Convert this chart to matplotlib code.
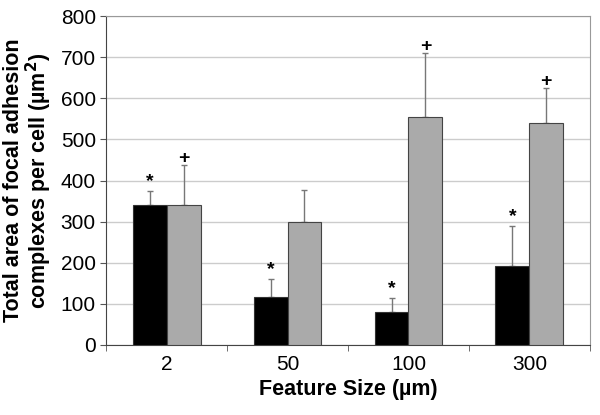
import matplotlib.pyplot as plt
import numpy as np

plt.rcParams["font.family"] = ["Liberation Sans", "DejaVu Sans"]

sizes = ["2", "50", "100", "300"]
black_vals = [340, 116, 81, 193]
black_err = [35, 44, 33, 97]
gray_vals = [340, 300, 555, 540]
gray_err = [98, 77, 155, 85]
black_marks = ["*", "*", "*", "*"]
gray_marks = ["+", "", "+", "+"]

fig = plt.figure(figsize=(6, 4.15), dpi=100)
ax = fig.add_axes([0.177, 0.169, 0.806, 0.792])

x = np.arange(len(sizes))
w = 0.28

ax.bar(x - w / 2, black_vals, w, color="black", edgecolor="#333333", linewidth=0.8, zorder=3)
ax.bar(x + w / 2, gray_vals, w, color="#aaaaaa", edgecolor="#444444", linewidth=0.8, zorder=3)
ax.errorbar(x - w / 2, black_vals, yerr=[np.zeros(4), black_err], fmt="none",
            ecolor="#777777", elinewidth=1, capsize=2, zorder=2)
ax.errorbar(x + w / 2, gray_vals, yerr=[np.zeros(4), gray_err], fmt="none",
            ecolor="#777777", elinewidth=1, capsize=2, zorder=2)

# significance marks above the error bars
for i in range(len(sizes)):
    if black_marks[i]:
        ax.text(x[i] - w / 2, black_vals[i] + black_err[i] + 2, black_marks[i],
                ha="center", va="bottom", fontsize=14, fontweight="bold")
    if gray_marks[i]:
        ax.text(x[i] + w / 2, gray_vals[i] + gray_err[i] - 4, gray_marks[i],
                ha="center", va="bottom", fontsize=14, fontweight="bold")

ax.set_xlim(-0.5, 3.5)
ax.set_ylim(0, 800)
ax.set_yticks(range(0, 801, 100))
ax.set_xticks(x)
ax.set_xticklabels(sizes)
ax.set_xticks(np.arange(-0.5, 4, 1), minor=True)
ax.tick_params(axis="x", which="major", length=0, labelsize=15, pad=7)
ax.tick_params(axis="x", which="minor", length=4, color="#555555")
ax.tick_params(axis="y", labelsize=15, length=4, color="#555555")

ax.yaxis.grid(True, color="#cccccc", linewidth=1, zorder=0)
ax.set_axisbelow(True)
for s in ["top", "right"]:
    ax.spines[s].set_color("#999999")
for s in ["left", "bottom"]:
    ax.spines[s].set_color("#444444")

ax.set_xlabel("Feature Size (\u00b5m)", fontsize=15.5, fontweight="bold", labelpad=4)
ax.set_ylabel("Total area of focal adhesion\ncomplexes per cell (\u00b5m$^\\mathbf{2}$)",
              fontsize=15.5, fontweight="bold", labelpad=5, linespacing=1.0)

plt.savefig("out.png", dpi=100)
